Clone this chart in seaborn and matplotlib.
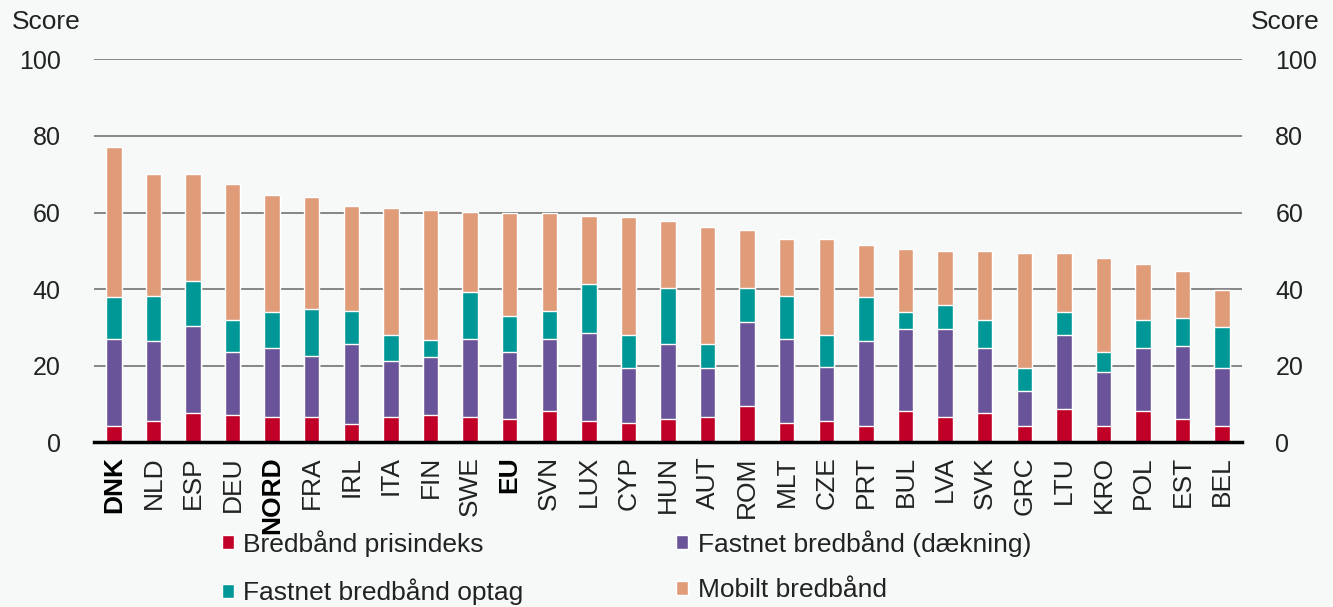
import numpy as np
import matplotlib
matplotlib.use("Agg")
import matplotlib.pyplot as plt
from matplotlib.patches import Patch
import seaborn as sns

countries = ["DNK", "NLD", "ESP", "DEU", "NORD", "FRA", "IRL", "ITA", "FIN", "SWE",
             "EU", "SVN", "LUX", "CYP", "HUN", "AUT", "ROM", "MLT", "CZE", "PRT",
             "BUL", "LVA", "SVK", "GRC", "LTU", "KRO", "POL", "EST", "BEL"]
bold_labels = ["DNK", "NORD", "EU"]

prisindeks = [4.3, 5.6, 7.6, 7.1, 6.6, 6.6, 4.7, 6.6, 7.1, 6.6,
              6.2, 8.1, 5.6, 5.1, 6.2, 6.6, 9.6, 5.1, 5.6, 4.2,
              8.1, 6.6, 7.6, 4.2, 8.6, 4.2, 8.1, 6.2, 4.2]
daekning = [22.7, 20.9, 22.8, 16.6, 17.9, 16.0, 20.9, 14.5, 15.1, 20.4,
            17.5, 18.9, 22.9, 14.2, 19.4, 12.7, 21.8, 21.9, 14.1, 22.3,
            21.4, 22.9, 16.9, 9.2, 19.4, 14.1, 16.4, 18.9, 15.1]
optag = [10.9, 11.8, 11.7, 8.2, 9.4, 12.2, 8.8, 7.0, 4.4, 12.2,
         9.3, 7.4, 12.8, 8.8, 14.6, 6.4, 8.8, 11.3, 8.4, 11.4,
         4.4, 6.3, 7.4, 5.9, 5.9, 5.4, 7.4, 7.4, 10.7]
mobilt = [39.3, 31.7, 27.9, 35.6, 30.7, 29.3, 27.2, 33.1, 34.1, 21.0,
          26.8, 25.4, 17.9, 30.6, 17.6, 30.6, 15.2, 14.7, 24.9, 13.5,
          16.6, 14.2, 18.1, 30.2, 15.6, 24.3, 14.7, 12.1, 9.8]

series_names = ["Bredbånd prisindeks", "Fastnet bredbånd (dækning)",
                "Fastnet bredbånd optag", "Mobilt bredbånd"]
colors = ["#c00027", "#6a5499", "#009896", "#e09c79"]

bg = "#f7f9f9"
sns.set_style("white")
plt.rcParams["font.family"] = ["Liberation Sans", "DejaVu Sans"]

fig = plt.figure(figsize=(13.33, 6.07), dpi=100, facecolor=bg)
ax = fig.add_axes([94 / 1333, 164.7 / 607, 1148 / 1333, 383 / 607])
ax.set_facecolor(bg)

# stacked bars: draw cumulative totals from the top down
stack = np.cumsum([prisindeks, daekning, optag, mobilt], axis=0)
for level in range(3, -1, -1):
    sns.barplot(x=countries, y=stack[level], color=colors[level], width=0.39,
                saturation=1, ax=ax, zorder=3)

ax.set_xlim(-0.5, len(countries) - 0.5)
ax.set_ylim(0, 100)
ax.set_yticks(range(0, 101, 20))
ax.yaxis.grid(True, color="#858585", lw=1.4)
ax.xaxis.grid(False)
ax.set_axisbelow(True)
for side in ["top", "left", "right"]:
    ax.spines[side].set_visible(False)
ax.spines["bottom"].set_color("black")
ax.spines["bottom"].set_linewidth(2.5)
ax.spines["bottom"].set_zorder(4)

ax.tick_params(axis="y", length=0, pad=24, labelsize=18, labelleft=True,
               labelright=True, colors="#222222")
ax.set_xticks(range(len(countries)))
ax.set_xticklabels(countries, rotation=90, fontsize=19, color="#222222")
ax.tick_params(axis="x", which="major", length=0, pad=10)
ax.set_xticks(np.arange(-0.5, len(countries), 1), minor=True)
ax.tick_params(axis="x", which="minor", length=5, width=2, color="black")
for lbl in ax.get_xticklabels():
    if lbl.get_text() in bold_labels:
        lbl.set_fontweight("bold")
        lbl.set_color("black")
ax.set_xlabel("")
ax.set_ylabel("")

fig.text(12 / 1333, 1 - 22 / 607, "Score", ha="left", va="center", fontsize=19, color="#222222")
fig.text(1320 / 1333, 1 - 22 / 607, "Score", ha="right", va="center", fontsize=19, color="#222222")

handles = [Patch(facecolor=c) for c in [colors[0], colors[2], colors[1], colors[3]]]
labels = [series_names[0], series_names[2], series_names[1], series_names[3]]
fig.legend(handles, labels, ncol=2, loc="upper left", bbox_to_anchor=(222 / 1333, 1 - 530 / 607),
           frameon=False, fontsize=19, handlelength=0.45, handleheight=0.45,
           handletextpad=0.35, columnspacing=5.8, labelspacing=0.82,
           borderpad=0, borderaxespad=0, labelcolor="#222222")

fig.savefig("out.png", dpi=100, facecolor=bg)
